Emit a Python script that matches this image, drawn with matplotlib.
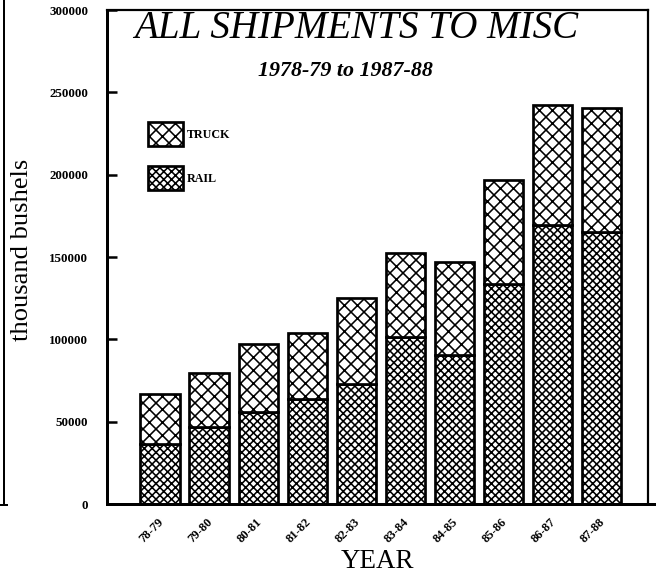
import matplotlib
matplotlib.use('Agg')
import matplotlib.pyplot as plt
import matplotlib.transforms as mtransforms
from matplotlib.patches import Patch
from matplotlib.lines import Line2D

# Shipments, thousand bushels
years = ['78-79', '79-80', '80-81', '81-82', '82-83',
         '83-84', '84-85', '85-86', '86-87', '87-88']
rail = [36600, 46500, 55700, 64000, 73000,
        101600, 90200, 133300, 169700, 165400]
truck = [29900, 33200, 41300, 40100, 52400,
         50800, 56600, 63200, 72600, 75300]
y_ticks = [0, 50000, 100000, 150000, 200000, 250000, 300000]

# hatch spacing is tied to dpi; 117 gives ~13px (truck) and ~8px (rail) meshes
DPI = 117
W, H = 656, 577


def pt(px):
    # size given in pixels -> points at this dpi
    return px * 72.0 / DPI


plt.rcParams['font.family'] = ['Liberation Serif', 'DejaVu Serif']
plt.rcParams['hatch.linewidth'] = pt(1.6)

fig = plt.figure(figsize=((W + 0.01) / DPI, (H + 0.01) / DPI), dpi=DPI)

# axes box in pixels: left 107, right 648, top 10, bottom 504
ax = fig.add_axes([107 / W, (H - 504) / H, (648 - 107) / W, (504 - 10) / H])

x = list(range(len(years)))
ax.bar(x, rail, width=0.8, facecolor='white', edgecolor='black',
       hatch='xxxxx', linewidth=pt(2.7), label='RAIL')
ax.bar(x, truck, width=0.8, bottom=rail, facecolor='white', edgecolor='black',
       hatch='xxx', linewidth=pt(2.7), label='TRUCK')

ax.set_xlim(-1.08, 9.94)
ax.set_ylim(0, 300000)

for side in ['left', 'bottom']:
    ax.spines[side].set_linewidth(pt(3))
for side in ['top', 'right']:
    ax.spines[side].set_linewidth(pt(2.2))

ax.set_yticks(y_ticks)
ax.set_yticklabels([str(v) for v in y_ticks], fontsize=pt(13),
                   fontweight='bold')
ax.tick_params(axis='y', direction='in', length=pt(10), width=pt(2.5),
               pad=pt(19))

ax.set_xticks(x)
ax.set_xticklabels(years, rotation=45, ha='right', va='top',
                   fontsize=pt(12.5), fontweight='bold')
ax.tick_params(axis='x', length=0, pad=pt(12))
offset = mtransforms.ScaledTranslation(6 / DPI, 0, fig.dpi_scale_trans)
for lbl in ax.get_xticklabels():
    lbl.set_transform(lbl.get_transform() + offset)

ax.set_xlabel('YEAR', fontsize=pt(27), labelpad=pt(4))
fig.text(22 / W, 1 - 250 / H, 'thousand bushels', rotation=90,
         fontsize=pt(26.5), ha='center', va='center')

fig.text(356 / W, 1 - 28 / H, 'ALL SHIPMENTS TO MISC', fontsize=pt(39),
         style='italic', ha='center', va='center')
fig.text(345 / W, 1 - 71 / H, '1978-79 to 1987-88', fontsize=pt(22),
         style='italic', fontweight='bold', ha='center', va='center')

fs = pt(12)
handles = [Patch(facecolor='white', edgecolor='black', hatch='xxx',
                 linewidth=pt(2.7)),
           Patch(facecolor='white', edgecolor='black', hatch='xxxxx',
                 linewidth=pt(2.7))]
ax.legend(handles, ['TRUCK', 'RAIL'], loc='upper left',
          bbox_to_anchor=(0.0758, 0.773), frameon=False,
          prop={'size': fs, 'weight': 'bold'},
          handlelength=35 / 12, handleheight=2.7, labelspacing=20 / 12,
          handletextpad=0.3, borderpad=0, borderaxespad=0)

# left edge of the scanned page frame, and the base line running past the box
fig.add_artist(Line2D([4 / W, 4 / W], [1.0, (H - 505) / H],
                      color='black', linewidth=pt(2)))
fig.add_artist(Line2D([0, 7 / W], [(H - 505) / H, (H - 505) / H],
                      color='black', linewidth=pt(2)))
fig.add_artist(Line2D([648 / W, 1.0], [(H - 504) / H, (H - 504) / H],
                      color='black', linewidth=pt(3)))

fig.savefig('out.png', dpi=DPI)
